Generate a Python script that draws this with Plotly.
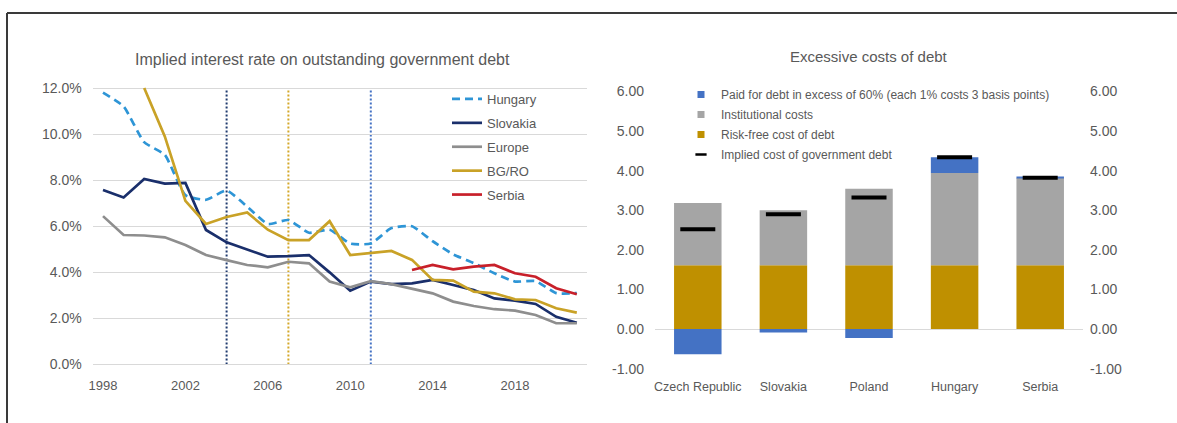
import plotly.graph_objects as go

W, H = 1177, 423

# ---- Left panel: implied interest rate on outstanding government debt (%) ----
years = list(range(1998, 2022))
hungary = [11.8, 11.2, 9.65, 9.1, 7.35, 7.15, 7.55, 6.85, 6.1, 6.27, 5.72, 5.85,
           5.25, 5.25, 5.92, 6.0, 5.35, 4.78, 4.4, 3.96, 3.6, 3.62, 3.1, 3.1]
slovakia = [7.57, 7.25, 8.05, 7.85, 7.88, 5.84, 5.3, 5.0, 4.68, 4.7, 4.75, 4.0,
            3.2, 3.6, 3.49, 3.52, 3.67, 3.45, 3.23, 2.87, 2.77, 2.63, 2.07, 1.81]
europe = [6.44, 5.62, 5.6, 5.52, 5.19, 4.75, 4.53, 4.32, 4.22, 4.46, 4.39, 3.6,
          3.35, 3.62, 3.49, 3.28, 3.09, 2.73, 2.54, 2.4, 2.34, 2.15, 1.79, 1.79]
bg_ro = [None, None, 12.0, 9.9, 7.1, 6.1, 6.4, 6.6, 5.85, 5.4, 5.4, 6.22,
         4.75, 4.85, 4.93, 4.54, 3.67, 3.64, 3.16, 3.09, 2.83, 2.8, 2.44, 2.25]
serbia = [None] * 15 + [4.1, 4.32, 4.13, 4.25, 4.32, 3.96, 3.81, 3.31, 3.05]

year_ticks = [1998, 2002, 2006, 2010, 2014, 2018]
rate_ticks = [0, 2, 4, 6, 8, 10, 12]
rate_tick_text = [f"{v:.1f}%" for v in rate_ticks]

# years marked with dotted vertical lines
marker_years = [2004, 2007, 2011]
marker_colors = ["#1F3A6E", "#D4A82A", "#4472C4"]

# ---- Right panel: excessive costs of debt ----
categories = ["Czech Republic", "Slovakia", "Poland", "Hungary", "Serbia"]
risk_free = [1.61, 1.61, 1.61, 1.61, 1.61]
institutional = [1.57, 1.39, 1.93, 2.33, 2.20]
excess_debt = [-0.64, -0.09, -0.23, 0.40, 0.02]
implied_cost = [2.52, 2.90, 3.32, 4.34, 3.82]

cost_ticks = [-1, 0, 1, 2, 3, 4, 5, 6]
cost_tick_text = [f"{v:.2f}" for v in cost_ticks]

TEXT = "#595959"
FONT = "Liberation Sans, Arial, sans-serif"
BLUE, GREY, GOLD = "#4472C4", "#A5A5A5", "#BF9000"


def fx(p):
    return p / W


def fy(p):
    return 1 - p / H


fig = go.Figure()

line_specs = [
    ("Hungary", hungary, "#2E95D6", "8px,5px"),
    ("Slovakia", slovakia, "#1A2F6B", "solid"),
    ("Europe", europe, "#8E8E8E", "solid"),
    ("BG/RO", bg_ro, "#C9A227", "solid"),
    ("Serbia", serbia, "#C8202A", "solid"),
]
for name, vals, color, dash in line_specs:
    fig.add_trace(go.Scatter(
        x=years, y=vals, name=name, mode="lines",
        line=dict(color=color, width=2.7, dash=dash,
                  shape="spline" if name == "Hungary" else "linear",
                  smoothing=0.5),
        connectgaps=False, xaxis="x", yaxis="y",
        legend="legend", legendgroup=name,
    ))

# stacked bars (relative mode puts negative parts below zero)
for name, vals, color in [
    ("Risk-free cost of debt", risk_free, GOLD),
    ("Institutional costs", institutional, GREY),
    ("Paid for debt in excess of 60% (each 1% costs 3 basis points)", excess_debt, BLUE),
]:
    fig.add_trace(go.Bar(
        x=categories, y=vals, name=name, marker=dict(color=color, line=dict(width=0)),
        xaxis="x2", yaxis="y2", showlegend=False,
    ))

fig.add_trace(go.Scatter(
    x=categories, y=implied_cost, name="Implied cost of government debt",
    mode="markers",
    marker=dict(symbol="line-ew", size=25, line=dict(width=4, color="black"), color="black"),
    xaxis="x2", yaxis="y2", showlegend=False,
))

# legend entries for the right panel
legend2_entries = [
    ("Paid for debt in excess of 60% (each 1% costs 3 basis points)",
     dict(symbol="square", size=7, color=BLUE)),
    ("Institutional costs", dict(symbol="square", size=7, color=GREY)),
    ("Risk-free cost of debt", dict(symbol="square", size=7, color=GOLD)),
    ("Implied cost of government debt",
     dict(symbol="line-ew", size=8, color="black", line=dict(width=2.5, color="black"))),
]
for name, mk in legend2_entries:
    fig.add_trace(go.Scatter(
        x=[None], y=[None], name=name, mode="markers", marker=mk,
        xaxis="x2", yaxis="y3", legend="legend2", legendgroup="r_" + name,
        showlegend=True,
    ))

shapes = []
for yr, col in zip(marker_years, marker_colors):
    shapes.append(dict(type="line", xref="x", yref="y", x0=yr, x1=yr, y0=0, y1=12,
                       line=dict(color=col, width=2, dash="2px,2px"), layer="below"))
# frame lines
shapes.append(dict(type="line", xref="paper", yref="paper", x0=fx(7), x1=1, y0=fy(13), y1=fy(13),
                   line=dict(color="#3A3A3A", width=2)))
shapes.append(dict(type="line", xref="paper", yref="paper", x0=fx(7), x1=fx(7), y0=fy(13), y1=0,
                   line=dict(color="#3A3A3A", width=2)))

annotations = [
    dict(text="Implied interest rate on outstanding government debt", xref="paper", yref="paper",
         x=fx(322), y=fy(60), xanchor="center", yanchor="middle", showarrow=False,
         font=dict(size=16, color=TEXT, family=FONT)),
    dict(text="Excessive costs of debt", xref="paper", yref="paper",
         x=fx(869), y=fy(57), xanchor="center", yanchor="middle", showarrow=False,
         font=dict(size=15, color=TEXT, family=FONT)),
]

fig.update_layout(
    width=W, height=H, autosize=False,
    margin=dict(l=0, r=0, t=0, b=0, pad=0, autoexpand=False),
    paper_bgcolor="white", plot_bgcolor="white",
    font=dict(family=FONT, color=TEXT, size=12),
    barmode="relative", bargap=0.445,
    shapes=shapes, annotations=annotations,
    xaxis=dict(domain=[fx(92.7), fx(587.1)], range=[1997.5, 2021.5], anchor="y",
               tickvals=year_ticks, showgrid=False, zeroline=False, showline=False,
               ticks="", tickfont=dict(size=13, color=TEXT), ticklabelstandoff=10,
               automargin=False),
    yaxis=dict(domain=[fy(365.9), fy(83.4)], range=[-0.06, 12.2], anchor="x",
               tickvals=rate_ticks, ticktext=rate_tick_text, showgrid=True,
               gridcolor="#D9D9D9", gridwidth=1, zeroline=False, showline=False,
               ticks="", tickfont=dict(size=14, color=TEXT), ticklabelstandoff=10,
               automargin=False),
    xaxis2=dict(domain=[fx(655), fx(1083)], anchor="y2", type="category",
                categoryorder="array", categoryarray=categories,
                showgrid=False, zeroline=False, showline=False, ticks="",
                tickfont=dict(size=12.5, color=TEXT), ticklabelstandoff=9,
                automargin=False),
    yaxis2=dict(domain=[fy(368.6), fy(91.4)], range=[-1, 6], anchor="x2",
                tickvals=cost_ticks, ticktext=cost_tick_text, showgrid=False,
                zeroline=True, zerolinecolor="#D9D9D9", zerolinewidth=1,
                showline=False, ticks="", tickfont=dict(size=14, color=TEXT),
                ticklabelstandoff=10, automargin=False),
    yaxis3=dict(overlaying="y2", side="right", anchor="x2", range=[-1, 6],
                tickvals=cost_ticks, ticktext=cost_tick_text, showgrid=False,
                zeroline=False, showline=False, ticks="",
                tickfont=dict(size=14, color=TEXT), ticklabelstandoff=6,
                automargin=False),
    legend=dict(x=fx(447), xanchor="left", y=fy(84), yanchor="top",
                font=dict(size=13, color=TEXT), bgcolor="rgba(0,0,0,0)",
                tracegroupgap=4, itemwidth=30, borderwidth=0),
    legend2=dict(x=fx(681), xanchor="left", y=fy(80), yanchor="top",
                 font=dict(size=12, color=TEXT), bgcolor="rgba(0,0,0,0)",
                 tracegroupgap=1, itemwidth=30, borderwidth=0),
    showlegend=True,
)

fig.write_html("out.html")
